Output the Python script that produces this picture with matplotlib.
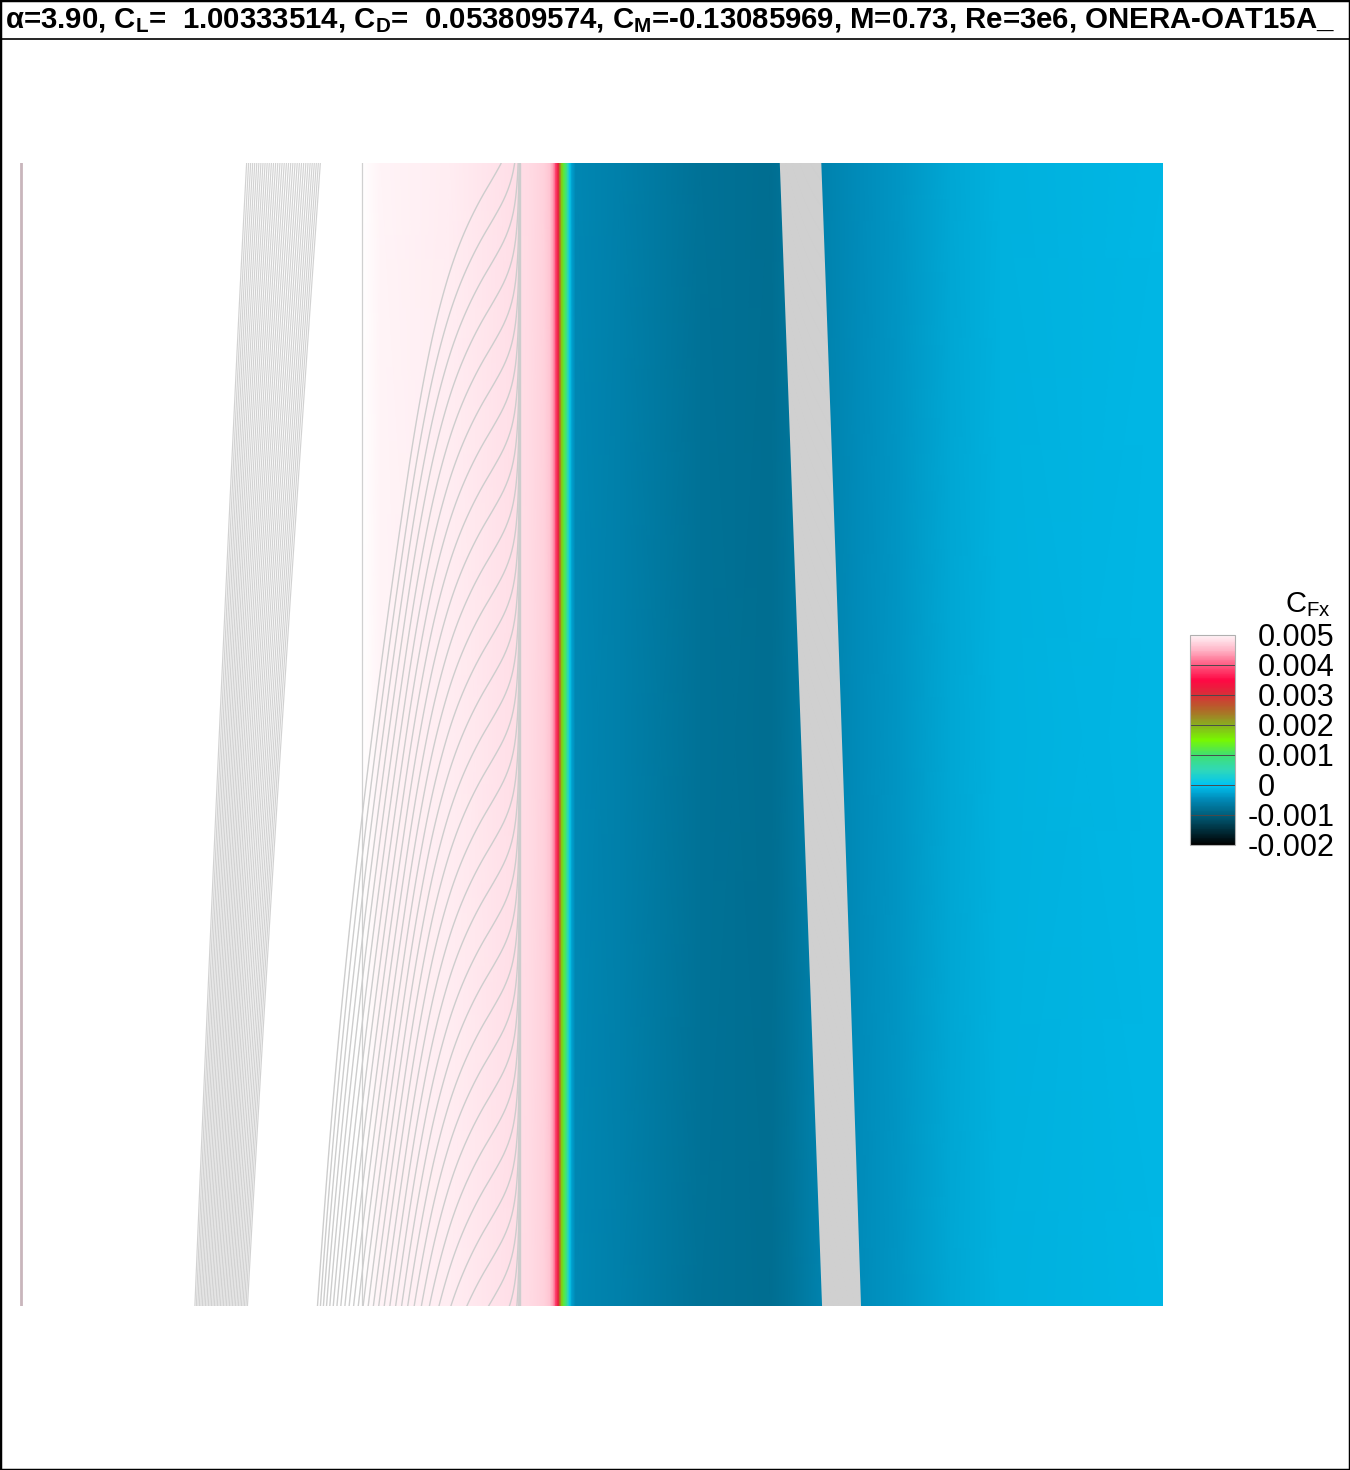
######################################
# Importando as libraries
######################################

import numpy as np
import matplotlib
matplotlib.use("Agg")
import matplotlib.pyplot as plt
from matplotlib.colors import LinearSegmentedColormap, Normalize
from matplotlib.lines import Line2D
from matplotlib.patches import Rectangle

plt.rcParams['font.family'] = ['Liberation Sans', 'DejaVu Sans']
plt.rcParams['mathtext.fontset'] = 'custom'
plt.rcParams['mathtext.rm'] = 'Liberation Sans'
plt.rcParams['mathtext.bf'] = 'Liberation Sans:bold'

######################################
# Dados
######################################

titulo = (r'α=3.90, C$_\mathbf{L}$=  1.00333514, C$_\mathbf{D}$=  0.053809574, '
          r'C$_\mathbf{M}$=-0.13085969, M=0.73, Re=3e6, ONERA-OAT15A_')

# Cfx ao longo da corda (x/c)
cf_x = [0.299, 0.315, 0.376, 0.420, 0.446, 0.459, 0.464, 0.467, 0.469, 0.471,
        0.472, 0.474, 0.476, 0.479, 0.481, 0.483, 0.486, 0.525, 0.595, 0.656,
        0.674, 0.700, 0.735, 0.770, 0.814, 0.857, 1.000]
cf_val = [0.00505, 0.00500, 0.00494, 0.00486, 0.00480, 0.00472, 0.00460, 0.00430,
          0.00380, 0.00320, 0.00260, 0.00180, 0.00120, 0.00060, 0.00010, -0.00030,
          -0.00050, -0.00058, -0.00075, -0.00080, -0.00072, -0.00056, -0.00046,
          -0.00036, -0.00023, -0.00015, -0.00011]

# escala de cores (valores e cores)
nivel = [-0.002, -0.0015, -0.001, -0.0005, 0.0, 0.0005, 0.001, 0.0015,
         0.002, 0.0025, 0.003, 0.0035, 0.004, 0.0045, 0.005]
cores = ['#000000', '#00303e', '#005f7c', '#0088b5', '#00c4f2', '#30d8b8',
         '#40e070', '#78f800', '#88b020', '#b06828', '#d83038', '#ff0844',
         '#ff5880', '#ffb4c6', '#fff4f7']
ticks = [0.005, 0.004, 0.003, 0.002, 0.001, 0.0, -0.001, -0.002]

# inclinacao das linhas de corrente dx/dy ao longo da corda
vel_x = [0.0, 0.15, 0.19, 0.20, 0.23, 0.265, 0.28, 0.30, 0.34, 0.357, 0.374,
         0.391, 0.409, 0.42, 0.428, 0.436, 0.4375, 0.44, 0.46, 0.60, 0.70,
         0.74, 1.0]
vel_dxdy = [0.04, 0.04, 0.048, 0.055, 0.065, 0.072, 0.095, 0.12, 0.15, 0.2,
            0.3, 0.45, 0.6, 0.55, 0.35, 0.03, 0.0, -0.01, -0.03, -0.037,
            -0.037, -0.032, -0.03]

# sementes das linhas de corrente
faixa_esq = (0.153, 0.199, 36)
faixa_cinza = (0.7025, 0.735, 45)
rake_x = 0.30
rake_y = (-1.2, 0.434, 46)

######################################
# Figura
######################################

fig = plt.figure(figsize=(13.5, 14.7), dpi=100)
ax = fig.add_axes([20/1350, 164/1470, 1143/1350, 1143/1470])
ax.set_axis_off()

cmap = LinearSegmentedColormap.from_list(
    'cfx', list(zip((np.array(nivel) - nivel[0]) / (nivel[-1] - nivel[0]), cores)))
cmap = cmap.with_extremes(over='white')
norm = Normalize(vmin=nivel[0], vmax=nivel[-1])

X = np.array([cf_x, cf_x])
Y = np.array([[0.0] * len(cf_x), [1.0] * len(cf_x)])
C = np.array([cf_val, cf_val])
mesh = ax.pcolormesh(X, Y, C, cmap=cmap, norm=norm, shading='gouraud', zorder=1)

# borda do bordo de ataque e do campo
ax.axvline(0.001, color='#c9b6bc', lw=2, zorder=3)
ax.axvline(cf_x[0], color='#d0d0d0', lw=0.9, zorder=2)

######################################
# Linhas de corrente
######################################

gx = np.linspace(0, 1, 1201)
gy = np.linspace(-1.3, 1.0, 24)
U = np.tile(np.interp(gx, vel_x, vel_dxdy), (len(gy), 1))
V = np.ones_like(U)

s1 = np.linspace(*faixa_esq)
s2 = np.linspace(*faixa_cinza)
s3 = np.linspace(*rake_y)
ax.streamplot(gx, gy, U, V, start_points=np.column_stack([s1, np.zeros_like(s1)]),
              density=12, color='#d2d2d2', linewidth=0.85, arrowstyle='-',
              arrowsize=0.01, broken_streamlines=False,
              integration_direction='both', zorder=2)
ax.streamplot(gx, gy, U, V, start_points=np.column_stack([np.full_like(s3, rake_x), s3]),
              density=12, color='#cdcdcd', linewidth=1.0, arrowstyle='-',
              arrowsize=0.01, broken_streamlines=False,
              integration_direction='both', zorder=2)
ax.streamplot(gx, gy, U, V, start_points=np.column_stack([s2, np.zeros_like(s2)]),
              density=12, color='#d0d0d0', linewidth=1.3, arrowstyle='-',
              arrowsize=0.01, broken_streamlines=False,
              integration_direction='both', zorder=2)

ax.set_xlim(0, 1)
ax.set_ylim(0, 1)

######################################
# Barra de cores
######################################

cax = fig.add_axes([1190/1350, 625/1470, 45/1350, 210/1470])
cbar = fig.colorbar(mesh, cax=cax)
cbar.set_ticks([])
cbar.outline.set_edgecolor('#b0b0b0')
cbar.outline.set_linewidth(0.8)
for v in ticks[1:-1]:
    cax.axhline(v, color='#4a4a4a', lw=0.7)
for v in ticks:
    xt = 1.511 if v >= 0 else 1.29
    cax.text(xt, v, '%g' % v, transform=cax.get_yaxis_transform(),
             ha='left', va='center_baseline', fontsize=22)
cax.text(2.11, 1.11, r'C$_\mathregular{Fx}$', transform=cax.transAxes,
         ha='left', va='baseline', fontsize=21)

######################################
# Titulo e moldura
######################################

fig.text(5/1350, 1 - 28/1470, titulo, fontsize=21.2, fontweight='bold',
         ha='left', va='baseline')
fig.add_artist(Line2D([0, 1], [1 - 39/1470] * 2, transform=fig.transFigure,
                      color='black', lw=1.2))
fig.add_artist(Rectangle((0, 0), 1, 1, transform=fig.transFigure, fill=False,
                         edgecolor='black', lw=2.5))

fig.savefig('out.png', dpi=100)
